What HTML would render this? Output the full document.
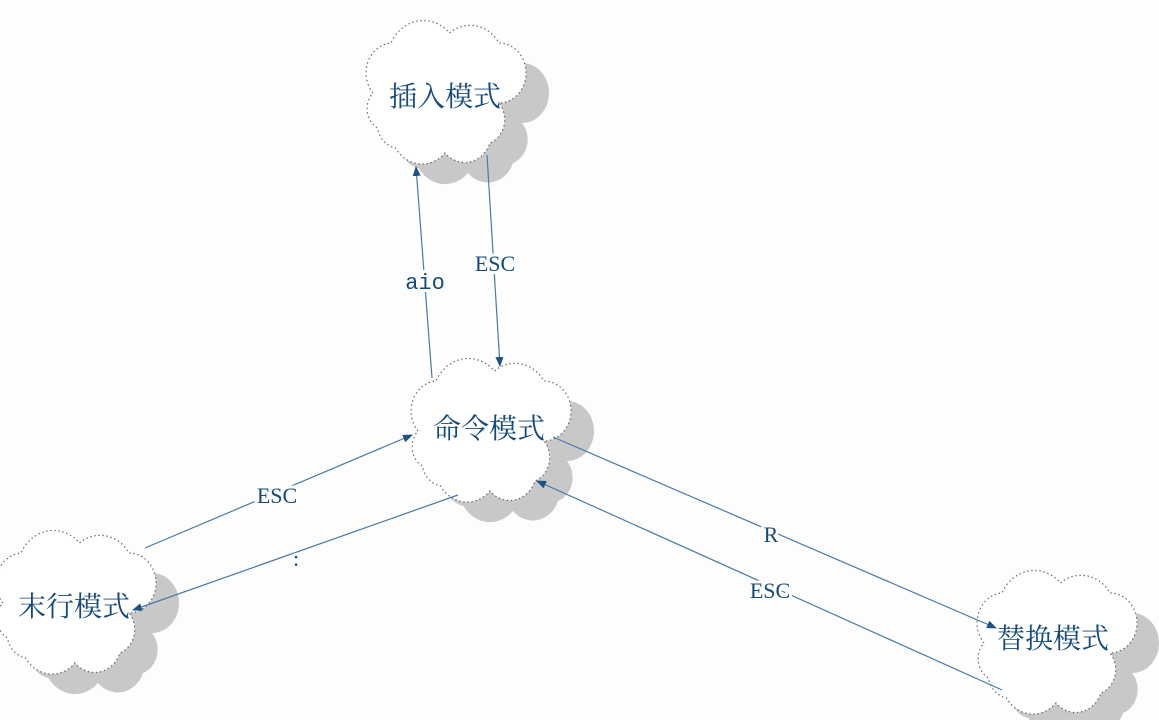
<!DOCTYPE html>
<html><head><meta charset="utf-8"><style>
html,body{margin:0;padding:0;background:#fdfdfd;width:1159px;height:720px;overflow:hidden}
svg{display:block}
.t{font-family:"Liberation Serif","Noto Serif CJK SC","Noto Sans CJK SC",serif;fill:#164a7a}
.l{font-family:"Liberation Serif",serif;font-size:22px;fill:#164a7a;stroke:#fdfdfd;stroke-width:6px;paint-order:stroke}
</style></head><body>
<svg width="1159" height="720" viewBox="0 0 1159 720" xmlns="http://www.w3.org/2000/svg">
<defs>
<path id="c" d="M10,85 A30 30 0 0 1 30,35 A40 40 0 0 1 95,25 A38 38 0 0 1 150,35 A30 30 0 0 1 150,95 A25 25 0 0 1 140,135 A30 30 0 0 1 90,145 A35 35 0 0 1 35,140 A25 25 0 0 1 15,120 A22 22 0 0 1 10,85 Z"/>
<marker id="a" markerWidth="10" markerHeight="10" refX="9" refY="5" orient="auto" markerUnits="userSpaceOnUse"><path d="M0,1 L10,5 L0,9 Z" fill="#1d5282"/></marker>
</defs>
<g fill="#c8c8c8">
<use href="#c" transform="translate(387,28) scale(0.9,1)"/>
<use href="#c" transform="translate(432,366) scale(0.9,1)"/>
<use href="#c" transform="translate(17,538) scale(0.9,1)"/>
<use href="#c" transform="translate(997,578) scale(0.9,1)"/>
</g>
<g fill="#fff" stroke="#666" stroke-width="1.3" stroke-dasharray="1.5 3">
<use href="#c" transform="translate(364,8) scale(0.9,1)"/>
<use href="#c" transform="translate(409,346) scale(0.9,1)"/>
<use href="#c" transform="translate(-6,518) scale(0.9,1)"/>
<use href="#c" transform="translate(975,558) scale(0.9,1)"/>
</g>
<g stroke="#4a79a8" stroke-width="1.2" marker-end="url(#a)">
<line x1="432" y1="378" x2="416" y2="167"/>
<line x1="487" y1="155" x2="500" y2="366"/>
<line x1="145" y1="548" x2="412" y2="435"/>
<line x1="458" y1="495" x2="133" y2="610"/>
<line x1="553" y1="437" x2="996" y2="628"/>
<line x1="1002" y1="690" x2="537" y2="481"/>
</g>
<text class="t" font-size="28" x="445" y="106" text-anchor="middle">插入模式</text>
<text class="t" font-size="28" x="489" y="438" text-anchor="middle">命令模式</text>
<text class="t" font-size="28" x="74" y="616" text-anchor="middle">末行模式</text>
<text class="t" font-size="28" x="1053" y="648" text-anchor="middle">替换模式</text>
<text class="l" x="425" y="289" text-anchor="middle" style="font-family:'Liberation Mono',monospace">aio</text>
<text class="l" x="495" y="271" text-anchor="middle">ESC</text>
<text class="l" x="277" y="503" text-anchor="middle">ESC</text>
<text class="l" x="296" y="566" text-anchor="middle">:</text>
<text class="l" x="771" y="542" text-anchor="middle">R</text>
<text class="l" x="770" y="598" text-anchor="middle">ESC</text>
</svg>
</body></html>
